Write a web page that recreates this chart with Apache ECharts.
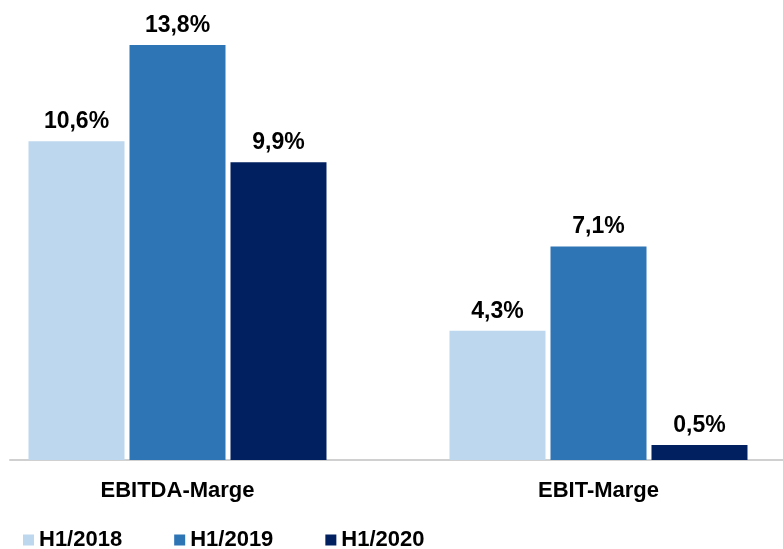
<!DOCTYPE html>
<html>
<head>
<meta charset="utf-8">
<script src="https://cdn.jsdelivr.net/npm/echarts@6/dist/echarts.min.js"></script>
<style>
  html, body { margin: 0; padding: 0; background: #fff; }
  #chart { width: 783px; height: 549px; }
</style>
</head>
<body>
<div id="chart"></div>
<script>
const categories = ["EBITDA-Marge", "EBIT-Marge"];
const seriesNames = ["H1/2018", "H1/2019", "H1/2020"];
const h1_2018 = [10.6, 4.3];
const h1_2019 = [13.8, 7.1];
const h1_2020 = [9.9, 0.5];
const colors = ["#BDD7EE", "#2E75B6", "#002060"];

const font = '"Liberation Sans", Arial, sans-serif';
const fmt = (p) => String(p.value).replace(".", ",") + "%";

const chart = echarts.init(document.getElementById("chart"));

function makeSeries(name, data, color) {
  return {
    name: name,
    type: "bar",
    data: data,
    barWidth: 96,
    barGap: "5.2%",
    itemStyle: { color: color },
    label: {
      show: true,
      position: "top",
      distance: 8,
      formatter: fmt,
      color: "#000",
      fontFamily: font,
      fontWeight: "bold",
      fontSize: 23,
    },
  };
}

chart.setOption({
  animation: false,
  grid: [
    { left: -33, right: -26, top: 9, bottom: 89, outerBoundsMode: "none" },
    { left: 10, right: 0, top: 9, bottom: 89, outerBoundsMode: "none" },
  ],
  xAxis: [
    {
      type: "category",
      gridIndex: 0,
      data: categories,
      axisLine: { show: false },
      axisTick: { show: false },
      axisLabel: {
        margin: 20,
        color: "#000",
        fontFamily: font,
        fontWeight: "bold",
        fontSize: 22,
      },
    },
    {
      type: "value",
      gridIndex: 1,
      axisLine: { show: true, lineStyle: { color: "#d0d0d0", width: 2 } },
      axisTick: { show: false },
      axisLabel: { show: false },
      splitLine: { show: false },
    },
  ],
  yAxis: [
    { type: "value", gridIndex: 0, min: 0, max: 15, show: false },
    { type: "value", gridIndex: 1, min: 0, max: 15, show: false },
  ],
  legend: {
    left: 23,
    top: 529,
    padding: 0,
    icon: "rect",
    itemWidth: 11,
    itemHeight: 11,
    itemGap: 52,
    data: seriesNames,
    textStyle: {
      color: "#000",
      fontFamily: font,
      fontWeight: "bold",
      fontSize: 22,
    },
  },
  series: [
    makeSeries(seriesNames[0], h1_2018, colors[0]),
    makeSeries(seriesNames[1], h1_2019, colors[1]),
    makeSeries(seriesNames[2], h1_2020, colors[2]),
  ],
});
</script>
</body>
</html>
